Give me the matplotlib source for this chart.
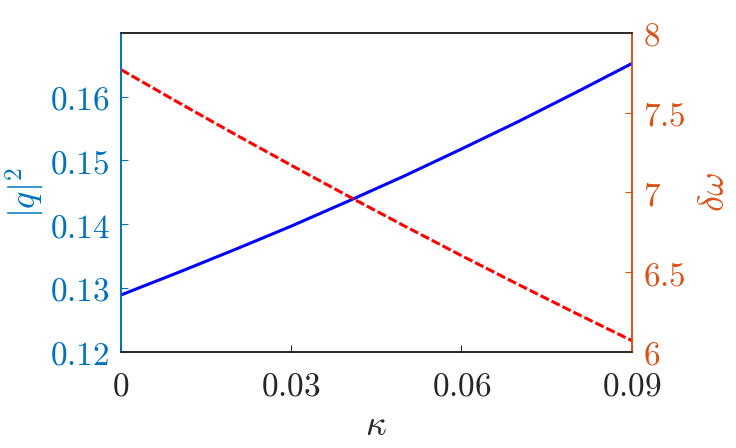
import matplotlib
matplotlib.use("Agg")
import matplotlib.pyplot as plt

plt.rcParams['mathtext.fontset'] = 'cm'
plt.rcParams['font.family'] = ['DejaVu Sans']

# data
kappa = [0.0, 0.01, 0.02, 0.03, 0.04, 0.05, 0.06, 0.07, 0.08, 0.09]
q2 = [0.1289, 0.1324, 0.1360, 0.1397, 0.1436, 0.1476, 0.1518, 0.1561, 0.1606, 0.1652]
dw = [7.770, 7.566, 7.366, 7.170, 6.977, 6.788, 6.603, 6.422, 6.244, 6.070]

x_ticks = [0, 0.03, 0.06, 0.09]
x_labels = ['$0$', '$0.03$', '$0.06$', '$0.09$']
yl_ticks = [0.12, 0.13, 0.14, 0.15, 0.16]
yl_labels = ['$0.12$', '$0.13$', '$0.14$', '$0.15$', '$0.16$']
yr_ticks = [6, 6.5, 7, 7.5, 8]
yr_labels = ['$6$', '$6.5$', '$7$', '$7.5$', '$8$']

c_left = '#0072BD'
c_right = '#D95319'
c_box = '#262626'
fs = 24

fig = plt.figure(figsize=(7.36, 4.48), dpi=100)
ax = fig.add_axes([121 / 736, 1 - 351.7 / 448, (631.7 - 121) / 736, (351.7 - 33) / 448])
ax2 = ax.twinx()

ax.plot(kappa, q2, color='blue', lw=2.2, zorder=3)
ax2.plot(kappa, dw, color='red', lw=2.2, dashes=(3, 1))

ax.set_xlim(0, 0.09)
ax.set_ylim(0.12, 0.17)
ax2.set_ylim(6, 8)

ax.set_xticks(x_ticks)
ax.set_xticklabels(x_labels, fontsize=fs, color=c_box)
ax.set_yticks(yl_ticks)
ax.set_yticklabels(yl_labels, fontsize=fs, color=c_left)
ax2.set_yticks(yr_ticks)
ax2.set_yticklabels(yr_labels, fontsize=fs, color=c_right)

ax.tick_params(axis='x', direction='in', length=5, width=0.8, color=c_box, pad=13)
ax.tick_params(axis='y', direction='in', length=5, width=0.8, color=c_left, pad=8)
ax2.tick_params(axis='y', direction='in', length=5, width=0.8, color=c_right, pad=8)

for a in (ax, ax2):
    a.spines['top'].set_color(c_box)
    a.spines['bottom'].set_color(c_box)
    a.spines['left'].set_color(c_left)
    a.spines['right'].set_color(c_right)
    for s in a.spines.values():
        s.set_linewidth(1.2)

ax.set_xlabel(r'$\kappa$', fontsize=fs + 2, color=c_box, labelpad=4)
ax.set_ylabel(r'$|q|^2$', fontsize=fs + 2, color=c_left, labelpad=2)
ax2.set_ylabel(r'$\delta\omega$', fontsize=fs + 2, color=c_right, labelpad=8)

fig.savefig('out.png', dpi=100)
